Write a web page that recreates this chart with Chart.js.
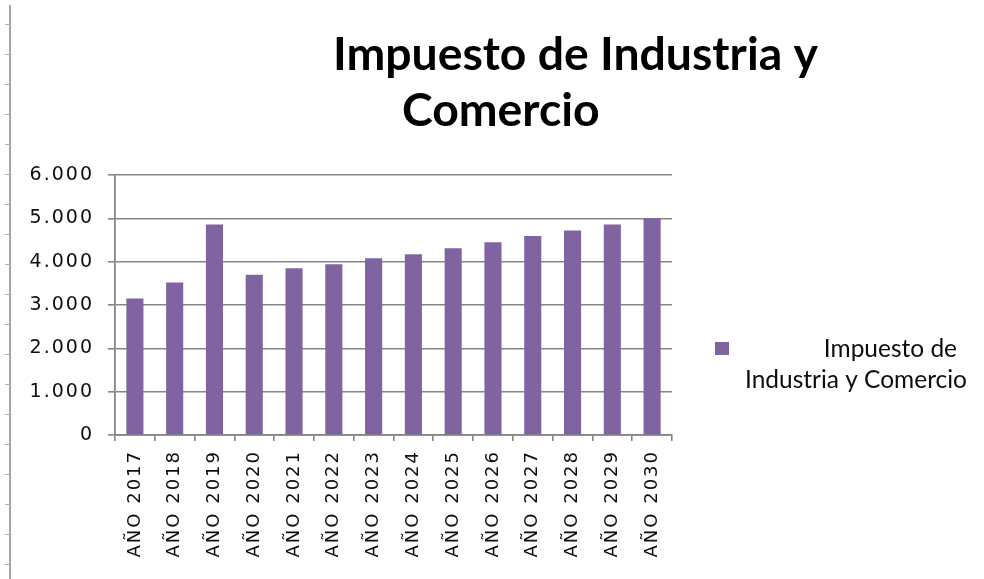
<!DOCTYPE html>
<html>
<head>
<meta charset="utf-8">
<script src="https://cdn.jsdelivr.net/npm/chart.js@4.4.1/dist/chart.umd.min.js"></script>
<style>
  html, body { margin: 0; padding: 0; background: #ffffff; }
  #wrap { width: 984px; height: 579px; position: relative; }
</style>
</head>
<body>
<div id="wrap"><canvas id="chart" width="984" height="579"></canvas></div>
<script>
// Recaudo anual proyectado del impuesto
const years = ['AÑO 2017', 'AÑO 2018', 'AÑO 2019', 'AÑO 2020', 'AÑO 2021', 'AÑO 2022', 'AÑO 2023',
               'AÑO 2024', 'AÑO 2025', 'AÑO 2026', 'AÑO 2027', 'AÑO 2028', 'AÑO 2029', 'AÑO 2030'];
const recaudo = [3150, 3520, 4860, 3700, 3850, 3940, 4080, 4170, 4310, 4450, 4590, 4720, 4860, 5000];
const seriesName = 'Impuesto de Industria y Comercio';
const titleLines = ['Impuesto de Industria y', 'Comercio'];
const legendLines = ['Impuesto de', 'Industria y Comercio'];
const yTicks = [0, 1000, 2000, 3000, 4000, 5000, 6000];

const barColor = '#8064A2';
const gridColor = '#858585';
const textColor = '#0d0d0d';
const axisFont = "'DejaVu Sans', Verdana, sans-serif";

// miles con punto: 5000 -> "5.000"
function miles(v) {
  const s = String(Math.round(v));
  return s.replace(/\B(?=(\d{3})+(?!\d))/g, '.');
}

// espaciado de letras de los rótulos de ejes
const spacing = {
  id: 'spacing',
  beforeLayout(chart) { chart.ctx.letterSpacing = '2px'; },
  beforeDraw(chart) { chart.ctx.letterSpacing = '2px'; }
};

function fitFont(ctx, text, weight, family, width) {
  ctx.font = weight + ' 40px ' + family;
  const w = ctx.measureText(text).width;
  return 40 * width / w;
}

// título, leyenda y regla lateral
const decor = {
  id: 'decor',
  afterDraw(chart) {
    const ctx = chart.ctx;
    ctx.save();
    ctx.letterSpacing = '0px';

    // regla vertical a la izquierda
    ctx.strokeStyle = '#a6a6a6';
    ctx.lineWidth = 2;
    ctx.beginPath();
    ctx.moveTo(10, 5); ctx.lineTo(10, 579);
    ctx.stroke();
    ctx.lineWidth = 1;
    ctx.strokeStyle = '#b0b0b0';
    for (let y = 24; y < 579; y += 30) {
      ctx.beginPath();
      ctx.moveTo(5, y + 0.5); ctx.lineTo(10, y + 0.5);
      ctx.stroke();
    }

    // título
    const tSize = fitFont(ctx, titleLines[0], 'bold', 'Lato', 485);
    ctx.font = 'bold ' + tSize.toFixed(2) + 'px Lato';
    ctx.fillStyle = '#000000';
    ctx.textAlign = 'left';
    ctx.textBaseline = 'alphabetic';
    ctx.fillText(titleLines[0], 333, 70);
    ctx.fillText(titleLines[1], 402, 126);

    // leyenda
    const ds = chart.data.datasets[0];
    ctx.fillStyle = ds.backgroundColor;
    ctx.fillRect(715, 342, 14, 13);
    const lSize = fitFont(ctx, legendLines[1], 'normal', 'Lato', 222);
    ctx.font = lSize.toFixed(2) + 'px Lato';
    ctx.fillStyle = textColor;
    ctx.textAlign = 'right';
    ctx.fillText(legendLines[0], 957, 357);
    ctx.textAlign = 'left';
    ctx.fillText(legendLines[1], 745, 388);
    ctx.restore();
  }
};

Chart.defaults.font.family = axisFont;
Chart.defaults.color = textColor;

new Chart(document.getElementById('chart'), {
  type: 'bar',
  data: {
    labels: years,
    datasets: [{
      label: seriesName,
      data: recaudo,
      backgroundColor: barColor,
      borderWidth: 0,
      barPercentage: 0.43,
      categoryPercentage: 1.0
    }]
  },
  options: {
    responsive: false,
    animation: false,
    events: [],
    layout: { padding: { left: 0, top: 175, right: 312, bottom: 0 } },
    plugins: {
      legend: { display: false },
      title: { display: false },
      tooltip: { enabled: false }
    },
    scales: {
      x: {
        offset: true,
        grid: { display: true, drawOnChartArea: false, drawTicks: true, tickLength: 6, offset: true, color: gridColor, lineWidth: 1.6 },
        border: { display: true, color: gridColor, width: 1.8 },
        ticks: { autoSkip: false, minRotation: 90, maxRotation: 90, padding: 9, font: { family: axisFont, size: 18 }, color: textColor },
        afterFit(scale) { scale.height = 579 - 435; }
      },
      y: {
        min: 0,
        max: 6000,
        afterBuildTicks(scale) { scale.ticks = yTicks.map(v => ({ value: v })); },
        grid: { color: gridColor, lineWidth: 1.6, drawTicks: true, tickLength: 7 },
        border: { display: true, color: gridColor, width: 1.8 },
        ticks: { padding: 14, font: { family: axisFont, size: 19 }, color: textColor, callback: v => miles(v) },
        afterFit(scale) { scale.width = 115; }
      }
    }
  },
  plugins: [spacing, decor]
});
</script>
</body>
</html>
